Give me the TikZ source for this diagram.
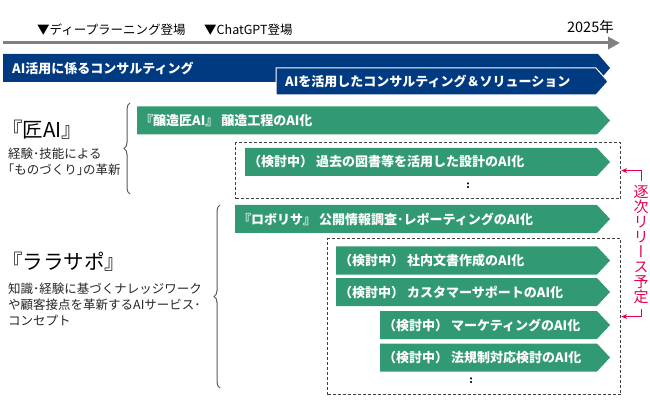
\documentclass[tikz,border=0pt]{standalone}
\usepackage{fontspec}
\setmainfont{Noto Sans CJK JP}
\newfontfamily\vjp{Noto Sans CJK JP}[RawFeature=+vert]
\usetikzlibrary{arrows.meta,decorations.pathreplacing}
\definecolor{rmnavy}{HTML}{003A80}
\definecolor{rmgreen}{HTML}{329A72}
\definecolor{rmline}{HTML}{808080}
\definecolor{rmbox}{HTML}{404040}
\definecolor{rmbrace}{HTML}{595959}
\definecolor{rmred}{HTML}{E5004F}
\definecolor{rmtext}{HTML}{262626}

\begin{document}
\begin{tikzpicture}[x=1pt,y=-1pt,
  bartxt/.style={font=\fontsize{13}{15}\selectfont\bfseries,text=white,inner sep=0pt,anchor=west},
  lbl/.style={font=\fontsize{12.5}{15}\selectfont,text=black,inner sep=0pt},
  desc/.style={font=\fontsize{12.5}{16}\selectfont,text=rmtext,inner sep=0pt,anchor=west,align=left},
  ttl/.style={font=\fontsize{20.5}{22}\selectfont,text=black,inner sep=0pt,anchor=west},
  dbox/.style={draw=rmbox,line width=1.2pt,dash pattern=on 3pt off 2pt,anchor=north west,inner sep=0pt},
  brc/.style={draw=rmbrace,line width=1pt,decorate,decoration={brace,amplitude=6pt}},
  relarr/.style={draw=rmred,line width=1pt,-{Stealth[length=6pt,width=5pt]}}]
  \useasboundingbox (0,0) rectangle (650,403);

  % timeline
  \node[lbl,anchor=west] (dl) at (37,30) {▼ディープラーニング登場};
  \node[lbl,anchor=west] (gpt) at (204,30) {▼ChatGPT登場};
  \node[lbl,anchor=east,font=\fontsize{14.5}{16}\selectfont] (y25) at (614,27) {2025年};
  \coordinate (t0) at (3,43);
  \coordinate (t1) at (620,43);
  \draw[rmline,line width=3pt,-{Triangle[length=12pt,width=12pt]}] (t0) -- (t1);

  % consulting
  \fill[rmnavy] (3,54) -- (598,54) -- (610,68) -- (598,82) -- (3,82) -- cycle;
  \filldraw[fill=rmnavy,draw=white,line width=1pt] (276,68) -- (596,68) -- (608,81.5) -- (596,95) -- (276,95) -- cycle;
  \node[bartxt] (c1) at (12,68) {AI活用に係るコンサルティング};
  \node[bartxt] (c2) at (285,81.5) {AIを活用したコンサルティング＆ソリューション};

  % products
  \foreach \n/\xa/\yc/\t in {g1/137/120.5/{『醸造匠AI』 醸造工程のAI化},
      g1a/245/162/{（検討中） 過去の図書等を活用した設計のAI化},
      g2/235/219/{『ロボリサ』 公開情報調査･レポーティングのAI化},
      g2a/336/260.5/{（検討中） 社内文書作成のAI化},
      g2b/336/292/{（検討中） カスタマーサポートのAI化},
      g2c/380/325/{（検討中） マーケティングのAI化},
      g2d/380/357.5/{（検討中） 法規制対応検討のAI化}}{
    \fill[rmgreen] (\xa,\yc-14) -- (597,\yc-14) -- (610,\yc) -- (597,\yc+14) -- (\xa,\yc+14) -- cycle;
    \node[bartxt] (\n) at (\xa+3,\yc) {\t};
  }
  \node[dbox,minimum width=385pt,minimum height=56pt] (rel1) at (235,142) {};
  \node[dbox,minimum width=293pt,minimum height=156pt] (rel2) at (327,238) {};
  \node[font=\bfseries] (dt1) at (468,186) {:};
  \node[font=\bfseries] (dt2) at (471,381) {:};

  % left side
  \node[ttl] (takumi) at (2,130) {『匠AI』};
  \node[desc] (takumid) at (8,162) {経験･技能による\\｢ものづくり｣の革新};
  \node[ttl] (rara) at (2,262) {『ララサポ』};
  \node[desc] (rarad) at (8,304) {知識･経験に基づくナレッジワーク\\や顧客接点を革新するAIサービス･\\コンセプト};
  \coordinate (b1a) at (130,194);
  \coordinate (b1b) at (130,103);
  \coordinate (b2a) at (220,388);
  \coordinate (b2b) at (220,205);
  \draw[brc] (b1a) -- (b1b);
  \draw[brc] (b2a) -- (b2b);

  % release note
  \node[font=\vjp\fontsize{15}{15}\selectfont,text=rmred,align=center,inner sep=0pt] (note) at (641,245) {逐\\次\\リ\\リ\\ー\\ス\\予\\定};
  \draw[relarr] ([yshift=5pt]note.north) |- (rel1.east);
  \draw[relarr] ([yshift=-5pt]note.south) |- (rel2.east);
\end{tikzpicture}
\end{document}
